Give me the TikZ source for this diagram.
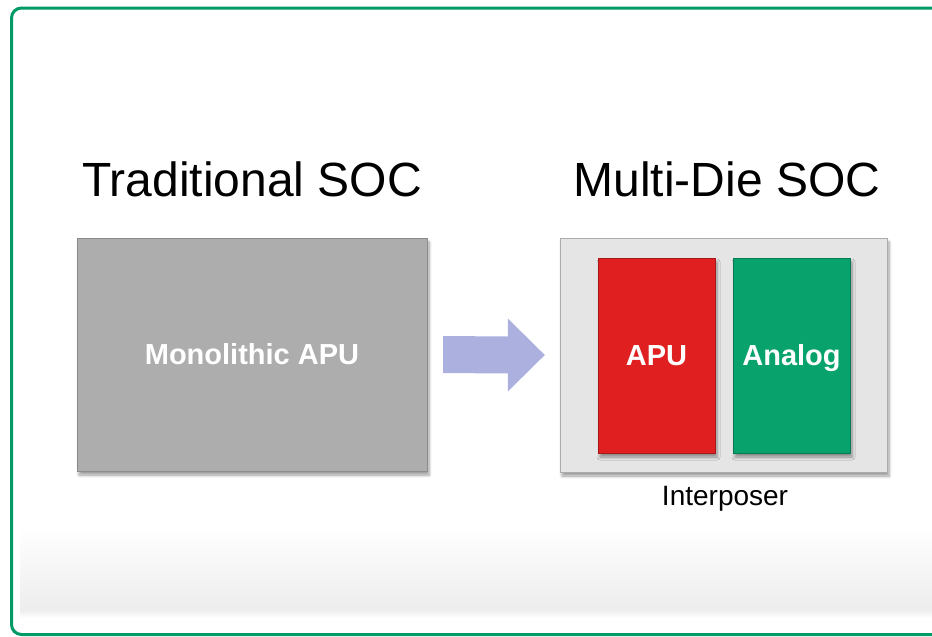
\documentclass[tikz,border=0pt]{standalone}
\usepackage{xcolor}
\usepackage{fontspec}
\setmainfont{Liberation Sans}
\usepackage{tikz}
\usetikzlibrary{calc, positioning, shadows.blur}

\definecolor{framegreen}{RGB}{0,153,104}
\definecolor{monogray}{RGB}{173,173,173}
\definecolor{intergray}{RGB}{229,229,229}
\definecolor{apured}{RGB}{224,32,32}
\definecolor{analoggreen}{RGB}{8,163,108}
\definecolor{arrowblue}{RGB}{172,176,222}

\tikzset{
  title/.style={font=\fontsize{48}{56}\selectfont, inner sep=0, anchor=base},
  chip/.style={rectangle, text centered, inner sep=0, text=white,
    text height=20.5pt, text depth=0pt,
    font=\fontsize{29}{34}\selectfont\bfseries,
    blur shadow={shadow blur steps=6, shadow xshift=2pt, shadow yshift=-4pt, shadow opacity=40, shadow blur radius=3pt}},
}

\begin{document}
\begin{tikzpicture}
              [x=1pt, y=-1pt]
              \useasboundingbox (0,0) rectangle (932,637);
              \clip (0,0) rectangle (932,637);

              % background %
              \shade[top color=white, bottom color=black!7] (20,528) rectangle (940,610);
              \shade[top color=black!7, bottom color=white] (20,610) rectangle (940,618);
              \draw[framegreen, line width=3pt, rounded corners=10pt] (11.5,8) rectangle (990,634.5);

              % nodes %
              \node[title] (trad) at (252,196) {Traditional SOC};
              \node[title] (multi) at (727,196) {Multi-Die SOC};
              \node[chip, draw=black!45, fill=monogray, minimum width=350pt, minimum height=233pt] (mono) at (252,354.5) {Monolithic APU};
              \node[chip, draw=black!33, fill=intergray, minimum width=327pt, minimum height=234pt] (inter) at (723.5,355) {};
              \node[chip, draw=apured!75!black, fill=apured, minimum width=117pt, minimum height=195pt] (apu) at (656.5,355.5) {APU};
              \node[chip, draw=analoggreen!75!black, fill=analoggreen, minimum width=117pt, minimum height=195pt] (analog) at (791.5,355.5) {Analog};
              \node[font=\fontsize{28}{34}\selectfont, inner sep=0, anchor=base] (interlbl) at (725,505) {Interposer};

              % edges %
              \coordinate (arrS) at ([xshift=16pt]mono.east);
              \coordinate (arrE) at ([xshift=-15pt]inter.west);
              \fill[arrowblue] ($(arrS)+(0,-18.5)$) -- ($(arrE)+(-37,-18.5)$) -- ($(arrE)+(-37,-36.5)$)
                -- (arrE) -- ($(arrE)+(-37,36.5)$) -- ($(arrE)+(-37,18.5)$) -- ($(arrS)+(0,18.5)$) -- cycle;
            \end{tikzpicture}
\end{document}
